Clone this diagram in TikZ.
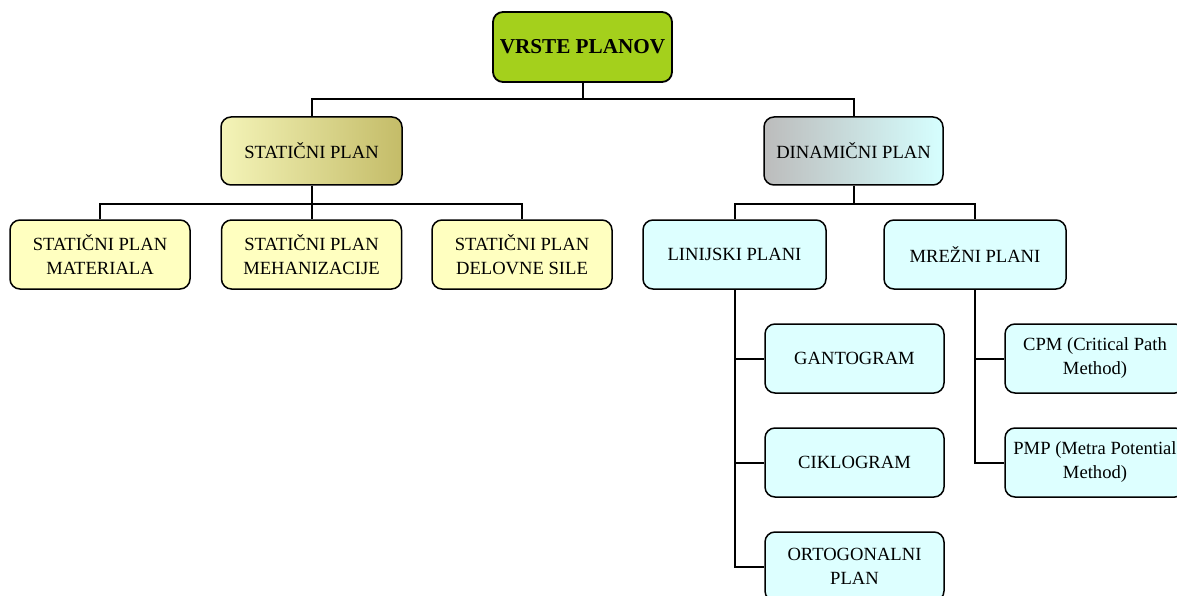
\documentclass[tikz,border=0pt]{standalone}
\usepackage{fontspec}
\setmainfont{Liberation Serif}
\definecolor{rootgreen}{RGB}{164,208,28}
\definecolor{paleyellow}{RGB}{255,255,192}
\definecolor{palecyan}{RGB}{221,255,255}
\definecolor{olivelight}{RGB}{244,244,184}
\definecolor{olivedark}{RGB}{196,188,104}
\definecolor{greyleft}{RGB}{188,188,188}
\definecolor{cyanright}{RGB}{214,255,255}
\tikzset{
  planbox/.style={draw=black, line width=1.5pt, rounded corners=10pt, align=center,
    inner sep=0pt, minimum width=180pt, minimum height=69pt,
    font=\fontsize{18.6}{24}\selectfont},
  yellowbox/.style={planbox, fill=paleyellow},
  cyanbox/.style={planbox, fill=palecyan},
  link/.style={line width=2pt}
}
\begin{document}
\begin{tikzpicture}[x=1pt,y=1pt,yscale=-1]
			\useasboundingbox (0,0) rectangle (1177,596);
			\clip (0,0) rectangle (1177,596);
			
			% Text Node
			\node [planbox, fill=rootgreen, line width=1.8pt, minimum width=179pt, minimum height=70pt, font=\fontsize{21.2}{24}\selectfont\bfseries] (root) at (582.5,47) {VRSTE PLANOV};
			% Text Node
			\node [planbox, left color=olivelight, right color=olivedark, minimum width=181pt, minimum height=68pt] (stat) at (311.5,151) {STATIČNI PLAN};
			% Text Node
			\node [planbox, left color=greyleft, right color=cyanright, minimum width=179pt, minimum height=68pt] (dyn) at (853.5,151) {DINAMIČNI PLAN};
			
			% Text Node
			\node [yellowbox] (mat) at (100,254.5) {STATIČNI PLAN\\MATERIALA};
			% Text Node
			\node [yellowbox] (meh) at (311.5,254.5) {STATIČNI PLAN\\MEHANIZACIJE};
			% Text Node
			\node [yellowbox] (sil) at (522,254.5) {STATIČNI PLAN\\DELOVNE SILE};
			
			% Text Node
			\node [cyanbox, minimum width=183pt] (lin) at (734.5,254.5) {LINIJSKI PLANI};
			% Text Node
			\node [cyanbox, minimum width=182pt] (mrez) at (975,254.5) {MREŽNI PLANI};
			
			% Text Node
			\node [cyanbox, minimum width=179pt] (gant) at (854.5,358.5) {GANTOGRAM};
			% Text Node
			\node [cyanbox, minimum width=179pt] (cikl) at (854.5,462.5) {CIKLOGRAM};
			% Text Node
			\node [cyanbox, minimum width=179pt] (orto) at (854.5,566.5) {ORTOGONALNI\\PLAN};
			
			% Text Node
			\node [cyanbox] (cpm) at (1095,358.5) {CPM (Critical Path\\Method)};
			% Text Node
			\node [cyanbox] (pmp) at (1095,462.5) {PMP (Metra Potential\\Method)};
			
			%Straight Lines
			\draw [link] (root.south) -- ++(0,16) coordinate (top);
			\draw [link] (stat.north) |- (top) -| (dyn.north);
			%Straight Lines
			\draw [link] (stat.south) -- ++(0,18) coordinate (left);
			\draw [link] (mat.north) |- (left) -| (sil.north);
			\draw [link] (left) -- (meh.north);
			%Straight Lines
			\draw [link] (dyn.south) -- ++(0,18) coordinate (right);
			\draw [link] (lin.north) |- (right) -| (mrez.north);
			%Straight Lines
			\draw [link] (lin.south) |- (gant.west);
			\draw [link] (lin.south) |- (cikl.west);
			\draw [link] (lin.south) |- (orto.west);
			%Straight Lines
			\draw [link] (mrez.south) |- (cpm.west);
			\draw [link] (mrez.south) |- (pmp.west);
			
		\end{tikzpicture}
\end{document}
